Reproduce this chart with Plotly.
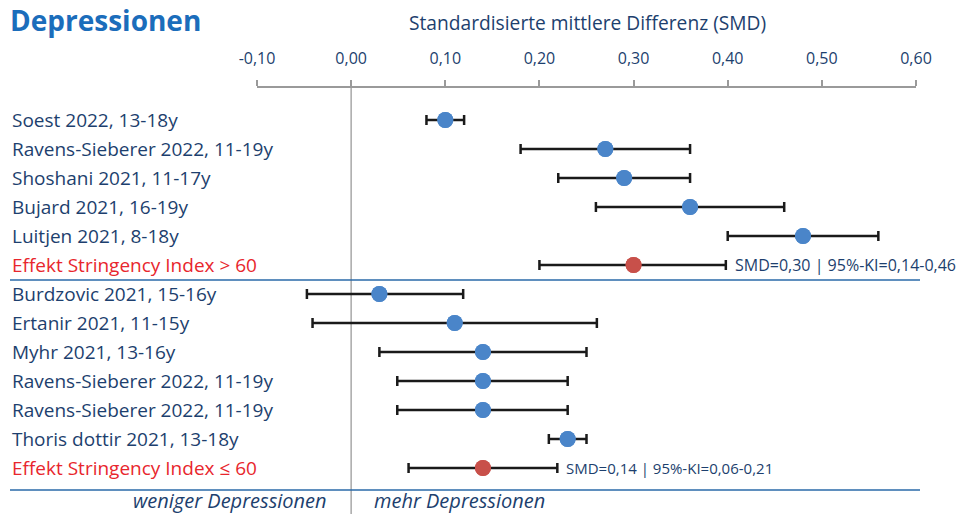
import plotly.graph_objects as go

labels = [
    "Soest 2022, 13-18y",
    "Ravens-Sieberer 2022, 11-19y",
    "Shoshani 2021, 11-17y",
    "Bujard 2021, 16-19y",
    "Luitjen 2021, 8-18y",
    "Effekt Stringency Index > 60",
    "Burdzovic 2021, 15-16y",
    "Ertanir 2021, 11-15y",
    "Myhr 2021, 13-16y",
    "Ravens-Sieberer 2022, 11-19y",
    "Ravens-Sieberer 2022, 11-19y",
    "Thoris dottir 2021, 13-18y",
    "Effekt Stringency Index \u2264 60",
]
smd = [0.100, 0.270, 0.290, 0.360, 0.480, 0.300, 0.030, 0.110, 0.140, 0.140, 0.140, 0.230, 0.140]
ci_lo = [0.080, 0.180, 0.220, 0.260, 0.400, 0.200, -0.047, -0.041, 0.030, 0.049, 0.049, 0.210, 0.061]
ci_hi = [0.120, 0.360, 0.360, 0.460, 0.560, 0.398, 0.119, 0.261, 0.250, 0.230, 0.230, 0.250, 0.219]
summary_text = ["SMD=0,30 | 95%-KI=0,14-0,46", "SMD=0,14 | 95%-KI=0,06-0,21"]
tick_vals = [-0.10, 0.00, 0.10, 0.20, 0.30, 0.40, 0.50, 0.60]
tick_text = [f"{v:.2f}".replace(".", ",") for v in tick_vals]

NAVY = "#1d3f6e"
BLUE = "#4a85c9"
RED_M = "#c8504a"
RED_T = "#e8262d"
TITLE_BLUE = "#1b6dbb"
FONT = "Open Sans"

rows = list(range(len(labels)))
is_sum = [l.startswith("Effekt") for l in labels]
mcolors = [RED_M if s else BLUE for s in is_sum]

fig = go.Figure()
fig.add_trace(go.Scatter(
    x=smd, y=rows, mode="markers",
    marker=dict(size=16, color=mcolors, line=dict(width=0)),
    error_x=dict(type="data", symmetric=False,
                 array=[h - m for h, m in zip(ci_hi, smd)],
                 arrayminus=[m - l for m, l in zip(smd, ci_lo)],
                 color="#1a1a1a", thickness=2.5, width=5),
    showlegend=False, hoverinfo="skip",
))
fig.add_trace(go.Scatter(
    x=smd, y=rows, mode="markers",
    marker=dict(size=16, color=mcolors, line=dict(width=0)),
    showlegend=False, hoverinfo="skip",
))

W, H = 961, 514
L, R, T, B = 257, 45, 88, 0
pw = W - L - R
ph = H - T - B
row0_px, row_step = 120, 29


def px_to_row(py):
    return (py - row0_px) / row_step


def px_to_paper_x(px):
    return (px - L) / pw


def px_to_paper_y(py):
    return 1 - (py - T) / ph


annotations = []
for i, lab in enumerate(labels):
    annotations.append(dict(
        x=px_to_paper_x(10), xref="paper", y=i, yref="y",
        text=lab, showarrow=False, xanchor="left", yanchor="middle",
        font=dict(family=FONT, size=19, color=RED_T if is_sum[i] else NAVY),
    ))

sum_rows = [i for i, s in enumerate(is_sum) if s]
sum_sizes = [16, 15]
for k, i in enumerate(sum_rows):
    annotations.append(dict(
        x=ci_hi[i], xref="x", y=i, yref="y", xshift=6,
        text=summary_text[k], showarrow=False, xanchor="left", yanchor="middle",
        bgcolor="white", borderpad=2,
        font=dict(family=FONT, size=sum_sizes[k], color=NAVY),
    ))

annotations += [
    dict(x=px_to_paper_x(8), xref="paper", y=px_to_paper_y(20), yref="paper",
         text="<b>Depressionen</b>", showarrow=False, xanchor="left", yanchor="middle",
         font=dict(family=FONT, size=28, color=TITLE_BLUE)),
    dict(x=px_to_paper_x(587), xref="paper", y=px_to_paper_y(22), yref="paper",
         text="Standardisierte mittlere Differenz (SMD)", showarrow=False,
         xanchor="center", yanchor="middle",
         font=dict(family=FONT, size=19.2, color=NAVY)),
    dict(x=px_to_paper_x(329), xref="paper", y=px_to_paper_y(500), yref="paper",
         text="<i>weniger Depressionen</i>", showarrow=False, xanchor="right", yanchor="middle",
         font=dict(family=FONT, size=20, color=NAVY)),
    dict(x=px_to_paper_x(372), xref="paper", y=px_to_paper_y(500), yref="paper",
         text="<i>mehr Depressionen</i>", showarrow=False, xanchor="left", yanchor="middle",
         font=dict(family=FONT, size=20, color=NAVY)),
]

shapes = [
    dict(type="line", xref="x", yref="paper", x0=0, x1=0, y0=0, y1=1,
         line=dict(color="#a8a8a8", width=1.5), layer="below"),
]
for py in (280, 490):
    shapes.append(dict(type="line", xref="paper", yref="paper",
                       x0=px_to_paper_x(10), x1=px_to_paper_x(920),
                       y0=px_to_paper_y(py), y1=px_to_paper_y(py),
                       line=dict(color="#2a6aa8", width=1.5)))

fig.update_layout(
    width=W, height=H,
    margin=dict(l=L, r=R, t=T, b=B, pad=0),
    paper_bgcolor="white", plot_bgcolor="white",
    font=dict(family=FONT, color=NAVY),
    xaxis=dict(
        side="top", range=[-0.1, 0.6], tickvals=tick_vals, ticktext=tick_text,
        showgrid=False, zeroline=False,
        showline=True, linecolor="#9a9a9a", linewidth=2,
        ticks="outside", ticklen=6, tickwidth=2, tickcolor="#9a9a9a",
        ticklabelstandoff=10,
        tickfont=dict(family=FONT, size=16, color=NAVY),
        fixedrange=True,
    ),
    yaxis=dict(
        range=[px_to_row(T + ph), px_to_row(T)],
        showgrid=False, zeroline=False, showticklabels=False, showline=False,
        fixedrange=True,
    ),
    annotations=annotations,
    shapes=shapes,
)

fig.write_html(
    "out.html",
    config={"displayModeBar": False},
    post_script="document.body.style.margin='0';document.body.style.padding='0';",
)
